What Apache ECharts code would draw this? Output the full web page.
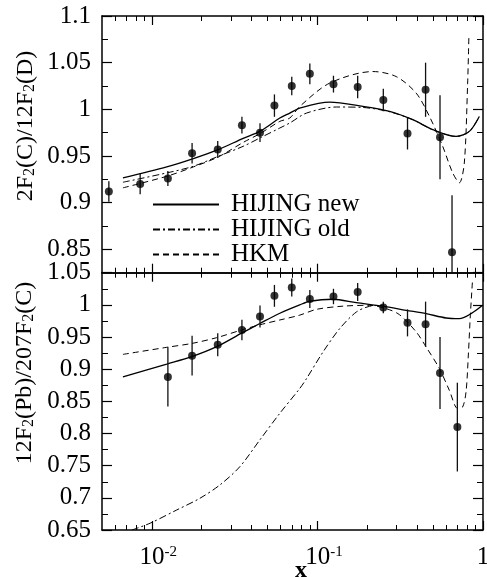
<!DOCTYPE html>
<html>
<head>
<meta charset="utf-8">
<script src="https://cdn.jsdelivr.net/npm/echarts@6/dist/echarts.min.js"></script>
<style>
html, body { margin: 0; padding: 0; background: #fff; }
#chart { width: 487px; height: 577px; }
</style>
</head>
<body>
<div id="chart"></div>
<script>
// measured points, top panel: 2F2(C)/12F2(D)
const cdX = [0.0055, 0.0085, 0.0125, 0.0175, 0.025, 0.035, 0.045, 0.055, 0.07, 0.09, 0.125, 0.175, 0.25, 0.35, 0.45, 0.55, 0.65];
const cdY = [0.912, 0.920, 0.926, 0.953, 0.957, 0.983, 0.975, 1.004, 1.025, 1.038, 1.027, 1.024, 1.010, 0.974, 1.021, 0.970, 0.847];
const cdErr = [0.011, 0.011, 0.008, 0.011, 0.009, 0.009, 0.010, 0.012, 0.010, 0.011, 0.009, 0.012, 0.012, 0.017, 0.029, 0.045, 0.061];

// measured points, bottom panel: 12F2(Pb)/207F2(C)
const pbX = [0.0125, 0.0175, 0.025, 0.035, 0.045, 0.055, 0.07, 0.09, 0.125, 0.175, 0.25, 0.35, 0.45, 0.55, 0.70];
const pbY = [0.888, 0.921, 0.938, 0.961, 0.982, 1.014, 1.027, 1.009, 1.013, 1.020, 0.996, 0.972, 0.970, 0.894, 0.810];
const pbErr = [0.046, 0.031, 0.018, 0.016, 0.017, 0.017, 0.014, 0.014, 0.012, 0.014, 0.009, 0.021, 0.035, 0.056, 0.069];

// model curves, top panel
const cdNew = [[0.00669, 0.9266], [0.01231, 0.9383], [0.01781, 0.9472], [0.02518, 0.9568], [0.03562, 0.969], [0.0449, 0.9764], [0.05928, 0.9907], [0.0681, 0.996], [0.0782, 1.0014], [0.1186, 1.0078], [0.1883, 1.0031], [0.2726, 0.9978], [0.3766, 0.9889], [0.497, 0.9782], [0.6877, 0.971], [0.827, 0.9764], [0.9499, 0.9924]];
const cdOld = [[0.00669, 0.9219], [0.01231, 0.9319], [0.01781, 0.939], [0.02518, 0.9497], [0.03562, 0.9604], [0.0449, 0.9693], [0.05928, 0.98], [0.0681, 0.9854], [0.0859, 0.996], [0.1302, 1.0025], [0.1883, 1.002], [0.2726, 0.9974], [0.3766, 0.9889], [0.497, 0.9782], [0.6877, 0.971], [0.827, 0.9764], [0.9499, 0.9924]];
const cdHkm = [[0.00669, 0.9159], [0.01231, 0.9283], [0.01781, 0.9383], [0.02518, 0.949], [0.03562, 0.9646], [0.0449, 0.9739], [0.05928, 0.9871], [0.0681, 0.9907], [0.0782, 1.0031], [0.1186, 1.0281], [0.2163, 1.0405], [0.2991, 1.0351], [0.3948, 1.0174], [0.4748, 0.9924], [0.5709, 0.9604], [0.6561, 0.9319], [0.7198, 0.9213], [0.7712, 0.9426], [0.8077, 1.0281], [0.8213, 1.0765]];

// model curves, bottom panel
const pbNew = [[0.00669, 0.888], [0.01231, 0.908], [0.01742, 0.9195], [0.02464, 0.935], [0.03485, 0.956], [0.0449, 0.971], [0.0593, 0.987], [0.0782, 1.0], [0.0899, 1.0056], [0.1242, 1.0087], [0.1718, 1.0034], [0.2484, 0.998], [0.3437, 0.9916], [0.4535, 0.9863], [0.5984, 0.9796], [0.7198, 0.9785], [0.8466, 0.9863], [0.9945, 0.9993]];
const pbOld = [[0.00758, 0.65], [0.00977, 0.6606], [0.01415, 0.6812], [0.01954, 0.6994], [0.02578, 0.7201], [0.03402, 0.7485], [0.0449, 0.79], [0.0593, 0.8315], [0.0782, 0.870], [0.0859, 0.8853], [0.1081, 0.9268], [0.1362, 0.963], [0.1718, 0.9889], [0.2065, 0.9978], [0.2484, 0.9993]];
const pbHkm = [[0.00669, 0.923], [0.01231, 0.934], [0.01742, 0.940], [0.02464, 0.949], [0.03485, 0.961], [0.0449, 0.969], [0.0593, 0.9765], [0.0782, 0.984], [0.0986, 0.993], [0.1426, 0.998], [0.2065, 0.9993], [0.2604, 0.9941], [0.3131, 0.9847], [0.3948, 0.958], [0.4535, 0.9345], [0.5452, 0.901], [0.6266, 0.867], [0.703, 0.839], [0.7535, 0.8413], [0.790, 0.865], [0.8155, 0.922], [0.8386, 0.984], [0.8657, 1.041]];

// ticks
const xMajor = [0.01, 0.1, 1];
const xExp = ['-2', '-1', ''];
const xMinor = [0.006, 0.007, 0.008, 0.009, 0.02, 0.03, 0.04, 0.05, 0.06, 0.07, 0.08, 0.09, 0.2, 0.3, 0.4, 0.5, 0.6, 0.7, 0.8, 0.9];
const topMajor = [0.85, 0.9, 0.95, 1, 1.05, 1.1];
const topMinor = [0.825, 0.875, 0.925, 0.975, 1.025, 1.075];
const botMajor = [0.65, 0.7, 0.75, 0.8, 0.85, 0.9, 0.95, 1, 1.05];
const botMinor = [0.675, 0.725, 0.775, 0.825, 0.875, 0.925, 0.975, 1.025];

const FONT = 'Liberation Serif';
const LINE = { color: '#000', width: 1.5 };

function xAxesFor(grid, labels) {
  const base = {
    type: 'log', logBase: 10, gridIndex: grid, min: 0.005, max: 1,
    splitLine: { show: false }, axisLabel: { show: false },
    axisLine: { show: true, onZero: false, lineStyle: LINE }
  };
  const major = { inside: true, length: 9, customValues: xMajor, lineStyle: { color: '#000', width: 1.2 } };
  const minor = { inside: true, length: 5, customValues: xMinor, lineStyle: { color: '#000', width: 1 } };
  const bottom = Object.assign({}, base, { position: 'bottom', axisTick: major });
  if (labels) {
    bottom.axisLabel = {
      show: true, customValues: xMajor, margin: 15, color: '#000', fontFamily: FONT,
      formatter: function (v) {
        const i = xMajor.findIndex(function (m) { return Math.abs(Math.log10(v / m)) < 1e-6; });
        const e = xExp[i];
        return e ? '{b|10}{s|' + e + '}' : '{o|1}';
      },
      rich: {
        b: { fontFamily: FONT, fontSize: 25, lineHeight: 25, color: '#000', padding: [8, 0, 0, 13], verticalAlign: 'bottom' },
        o: { fontFamily: FONT, fontSize: 25, lineHeight: 25, color: '#000', padding: [8, 0, 0, 0], verticalAlign: 'bottom' },
        s: { fontFamily: FONT, fontSize: 15, lineHeight: 15, color: '#000', verticalAlign: 'top' }
      }
    };
  }
  return [
    bottom,
    Object.assign({}, base, { position: 'bottom', axisLine: { show: false }, axisTick: minor }),
    Object.assign({}, base, { position: 'top', axisTick: major }),
    Object.assign({}, base, { position: 'top', axisLine: { show: false }, axisTick: minor })
  ];
}

function yAxesFor(grid, min, max, major, minor) {
  const base = {
    type: 'value', gridIndex: grid, min: min, max: max,
    splitLine: { show: false }, axisLabel: { show: false },
    axisLine: { show: true, onZero: false, lineStyle: LINE }
  };
  const majTick = { inside: true, length: 10, customValues: major, lineStyle: { color: '#000', width: 1.2 } };
  const minTick = { inside: true, length: 6, customValues: minor, lineStyle: { color: '#000', width: 1 } };
  return [
    Object.assign({}, base, {
      position: 'left', axisTick: majTick,
      axisLabel: {
        show: true, customValues: major, margin: 11, color: '#000', fontFamily: FONT, fontSize: 25,
        formatter: function (v) { return String(Math.round(v * 1000) / 1000); }
      }
    }),
    Object.assign({}, base, { position: 'left', axisLine: { show: false }, axisTick: minTick }),
    Object.assign({}, base, { position: 'right', axisTick: majTick }),
    Object.assign({}, base, { position: 'right', axisLine: { show: false }, axisTick: minTick })
  ];
}

function errBars(xs, ys, es, xi, yi, yMin, yMax) {
  return {
    type: 'custom', xAxisIndex: xi, yAxisIndex: yi, silent: true, z: 3,
    data: xs.map(function (x, i) { return [x, ys[i], es[i]]; }),
    encode: { x: 0, y: 1 },
    renderItem: function (params, api) {
      const x = api.value(0), y = api.value(1), e = api.value(2);
      const p1 = api.coord([x, Math.max(y - e, yMin)]);
      const p2 = api.coord([x, Math.min(y + e, yMax)]);
      return {
        type: 'line',
        shape: { x1: p1[0], y1: p1[1], x2: p2[0], y2: p2[1] },
        style: { stroke: '#111', lineWidth: 1.3 }
      };
    }
  };
}

function points(xs, ys, xi, yi) {
  return {
    type: 'scatter', xAxisIndex: xi, yAxisIndex: yi, z: 4,
    symbol: 'circle', symbolSize: 8, itemStyle: { color: '#000' },
    data: xs.map(function (x, i) { return [x, ys[i]]; })
  };
}

function curve(name, data, xi, yi, type, width) {
  return {
    name: name, type: 'line', xAxisIndex: xi, yAxisIndex: yi, z: 2,
    data: data, symbol: 'none', smooth: 0.3, clip: true,
    lineStyle: { color: '#000', width: width, type: type },
    itemStyle: { color: '#000' }
  };
}

const DASHDOT = [7, 3, 2, 3];
const DASH = [6, 4];

const chart = echarts.init(document.getElementById('chart'), null, { renderer: 'canvas' });
chart.setOption({
  backgroundColor: '#fff',
  animation: false,
  grid: [
    { left: 102, top: 16, right: 4, height: 256.7, outerBoundsMode: 'none' },
    { left: 102, top: 272.7, right: 4, height: 257.3, outerBoundsMode: 'none' }
  ],
  xAxis: xAxesFor(0, false).concat(xAxesFor(1, true)),
  yAxis: yAxesFor(0, 0.825, 1.1, topMajor, topMinor).concat(yAxesFor(1, 0.65, 1.05, botMajor, botMinor)),
  legend: {
    orient: 'vertical', left: 152, top: 192, padding: 0, itemGap: 0,
    itemWidth: 66, itemHeight: 12,
    data: ['HIJING new', 'HIJING old', 'HKM'],
    itemStyle: { opacity: 0 },
    textStyle: { fontFamily: FONT, fontSize: 25, lineHeight: 22, color: '#000', padding: [0, 0, 0, 7] },
    selectedMode: false
  },
  graphic: [
    {
      type: 'text', x: 25.5, y: 126, rotation: Math.PI / 2,
      style: {
        text: '{n|2F}{s|2}{n|(C)/12F}{s|2}{n|(D)}', align: 'center', verticalAlign: 'middle',
        rich: {
          n: { fontFamily: FONT, fontSize: 24, lineHeight: 24, padding: [0, 0, 3, 0], verticalAlign: 'top', fill: '#000' },
          s: { fontFamily: FONT, fontSize: 16, lineHeight: 16, verticalAlign: 'bottom', fill: '#000' }
        }
      }
    },
    {
      type: 'text', x: 25, y: 373, rotation: Math.PI / 2,
      style: {
        text: '{n|12F}{s|2}{n|(Pb)/207F}{s|2}{n|(C)}', align: 'center', verticalAlign: 'middle',
        rich: {
          n: { fontFamily: FONT, fontSize: 24, lineHeight: 24, padding: [0, 0, 3, 0], verticalAlign: 'top', fill: '#000' },
          s: { fontFamily: FONT, fontSize: 16, lineHeight: 16, verticalAlign: 'bottom', fill: '#000' }
        }
      }
    },
    {
      type: 'text', x: 301, y: 571,
      style: { text: 'x', font: 'bold 24px "Liberation Serif"', align: 'center', verticalAlign: 'middle', fill: '#000' }
    }
  ],
  series: [
    curve('HIJING new', cdNew, 0, 0, 'solid', 1.3),
    curve('HIJING old', cdOld, 0, 0, DASHDOT, 1),
    curve('HKM', cdHkm, 0, 0, DASH, 1),
    errBars(cdX, cdY, cdErr, 0, 0, 0.825, 1.1),
    points(cdX, cdY, 0, 0),
    curve('HIJING new', pbNew, 4, 4, 'solid', 1.3),
    curve('HIJING old', pbOld, 4, 4, DASHDOT, 1),
    curve('HKM', pbHkm, 4, 4, DASH, 1),
    errBars(pbX, pbY, pbErr, 4, 4, 0.65, 1.05),
    points(pbX, pbY, 4, 4)
  ]
});
</script>
</body>
</html>
